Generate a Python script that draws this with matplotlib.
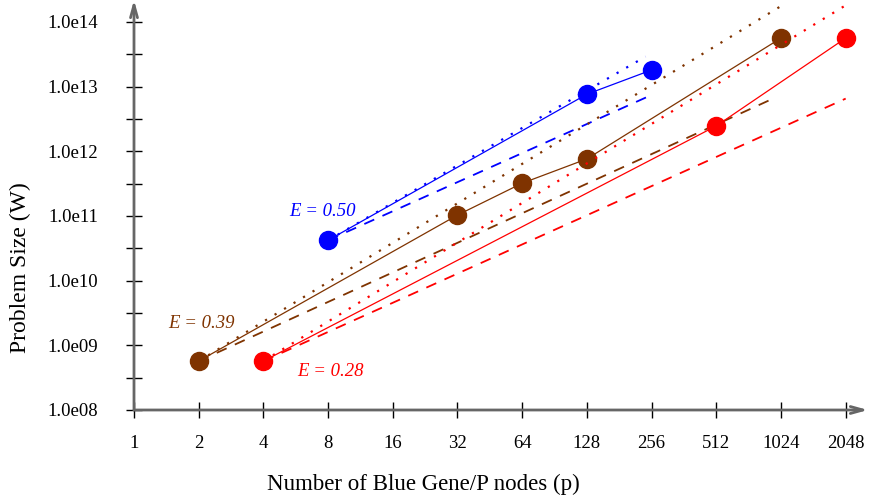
import numpy as np
import matplotlib
matplotlib.use('Agg')
import matplotlib.pyplot as plt

plt.rcParams['font.family'] = ['Liberation Serif', 'DejaVu Serif']

BLUE = '#0000ff'
BROWN = '#7f3300'
RED = '#ff0000'

# measured problem sizes for each efficiency level
p_050 = [8, 128, 256]
w_050 = [4.2e10, 7.6e12, 1.8e13]
p_039 = [2, 32, 64, 128, 1024]
w_039 = [5.7e8, 1.03e11, 3.2e11, 7.6e11, 5.6e13]
p_028 = [4, 512, 2048]
w_028 = [5.7e8, 2.46e12, 5.6e13]

# isoefficiency reference lines: (p_start, p_end), (W_start, W_end)
dotted_050 = ([8, 240], [4.2e10, 2.9e13])
dashed_050 = ([8, 256], [4.2e10, 7.4e12])
dotted_039 = ([2, 1024], [5.7e8, 1.75e14])
dashed_039 = ([2, 940], [5.7e8, 6.5e12])
dotted_028 = ([4, 2048], [5.7e8, 1.8e14])
dashed_028 = ([4, 2048], [5.7e8, 6.5e12])

x_ticks = [1, 2, 4, 8, 16, 32, 64, 128, 256, 512, 1024, 2048]
y_ticks = [1e8, 1e9, 1e10, 1e11, 1e12, 1e13, 1e14]
y_labels = ['1.0e08', '1.0e09', '1.0e10', '1.0e11', '1.0e12', '1.0e13', '1.0e14']

fig = plt.figure(figsize=(8.69, 5.01), dpi=100)
ax = fig.add_axes([134 / 869, 91 / 501, 734 / 869, 410 / 501])
ax.set_xscale('log', base=2)
ax.set_yscale('log')
ax.set_xlim(1, 2 ** 11.345)
ax.set_ylim(1e8, 10 ** 14.337)

series = [
    (p_050, w_050, dotted_050, dashed_050, BLUE),
    (p_039, w_039, dotted_039, dashed_039, BROWN),
    (p_028, w_028, dotted_028, dashed_028, RED),
]
for p, w, dot, dash, c in series:
    ax.plot(dot[0], dot[1], color=c, lw=1.6, ls=(0, (1, 4)))
    ax.plot(dash[0], dash[1], color=c, lw=1.3, ls=(0, (6, 5)))
    ax.plot(p, w, color=c, lw=0.9, marker='o', ms=13, mec=c, mfc=c)

ax.text(7.5, 1.19e11, 'E = 0.50', color=BLUE, fontsize=13.5, style='italic', ha='center', va='center')
ax.text(2.05, 2.2e9, 'E = 0.39', color=BROWN, fontsize=13.5, style='italic', ha='center', va='center')
ax.text(8.2, 4.0e8, 'E = 0.28', color=RED, fontsize=13.5, style='italic', ha='center', va='center')

# axes drawn as arrows instead of spines
for s in ax.spines.values():
    s.set_visible(False)
arrow = dict(arrowstyle='->,head_length=0.9,head_width=0.25', color='#666666', lw=2, shrinkA=0, shrinkB=0)
ax.annotate('', xy=(1.0, 0), xytext=(0, 0), xycoords='axes fraction', arrowprops=arrow)
ax.annotate('', xy=(0, 1.0), xytext=(0, 0), xycoords='axes fraction', arrowprops=arrow)

ax.set_xticks(x_ticks)
ax.set_xticklabels([str(t) for t in x_ticks])
ax.minorticks_off()
ax.set_yticks(y_ticks)
ax.set_yticklabels(y_labels)
ax.set_yticks([10 ** (k + 0.5) for k in range(8, 14)], minor=True)
ax.tick_params(axis='both', which='both', direction='inout', length=11.5, width=1, color='black', labelsize=13.5)
ax.tick_params(axis='x', pad=12)
ax.tick_params(axis='y', pad=20)

fig.text(423 / 869, 1 - 484 / 501, 'Number of Blue Gene/P nodes (p)', fontsize=16.5, ha='center', va='center')
fig.text(20 / 869, 1 - 268 / 501, 'Problem Size (W)', fontsize=17, rotation=90, ha='center', va='center')

fig.savefig('out.png', dpi=100)
